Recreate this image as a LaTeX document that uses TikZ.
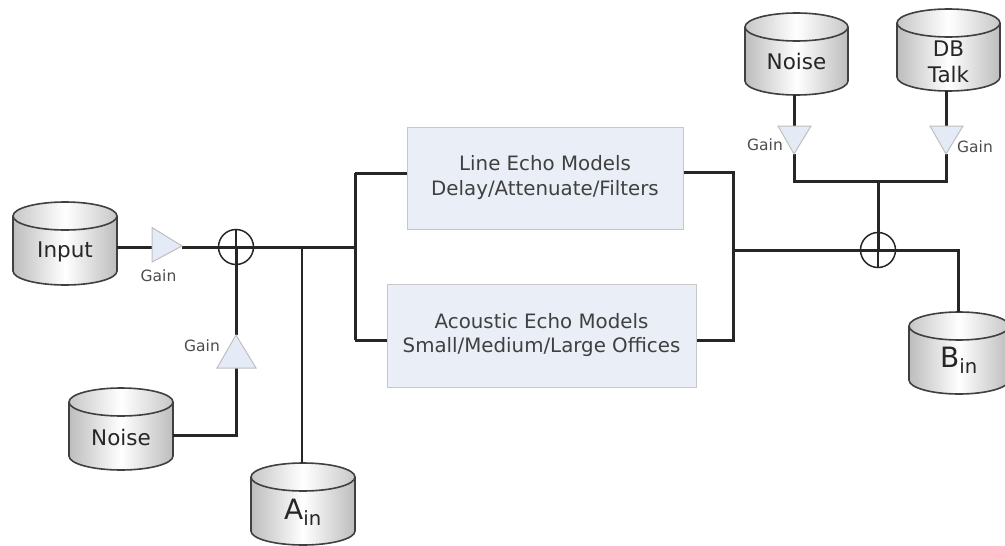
\documentclass[tikz,border=0pt]{standalone}
\usepackage{fontspec}
\setmainfont{DejaVu Sans}
\definecolor{ampfill}{RGB}{228,234,246}
\definecolor{boxfill}{RGB}{233,238,247}
\tikzset{
  wire/.style={draw=black!85,line width=3pt},
  thinwire/.style={draw=black!85,line width=2.2pt},
  amp/.style={fill=ampfill,draw=black!25,line width=1pt},
  gainlabel/.style={font=\fontsize{15.5}{18}\selectfont,text=black!70,inner sep=0pt},
  boxnode/.style={fill=boxfill,draw=black!22,line width=1pt,align=center,inner sep=0pt,font=\fontsize{19.8}{25}\selectfont,text=black!75},
  cyltext/.style={text=black!85,align=center,inner sep=0pt},
  sumc/.style={circle,draw=black!85,line width=1.5pt,minimum size=35pt,inner sep=0pt}
}
% name, left, top, width, height, font size, line height, text y offset, text
\newcommand{\drum}[9]{%
  \fill[left color=black!26,right color=black!26,middle color=white]
    (#2,#3+14) -- (#2,#3+#5-14) arc[start angle=180,end angle=0,x radius=#4/2,y radius=14]
    -- (#2+#4,#3+14) -- cycle;
  \fill[left color=black!22,right color=black!22,middle color=white]
    (#2+#4/2,#3+14) ellipse[x radius=#4/2,y radius=14];
  \draw[black!75,line width=1.6pt]
    (#2,#3+14) -- (#2,#3+#5-14) arc[start angle=180,end angle=0,x radius=#4/2,y radius=14]
    -- (#2+#4,#3+14);
  \draw[black!75,line width=1.6pt] (#2+#4/2,#3+14) ellipse[x radius=#4/2,y radius=14];
  \node[cyltext,font=\fontsize{#6}{#7}\selectfont] (#1)
    at (#2+#4/2,#3+#5/2+#8) {#9};
  \coordinate (#1-top) at (#2+#4/2,#3);
  \coordinate (#1-bot) at (#2+#4/2,#3+#5);
  \coordinate (#1-right) at (#2+#4,#3+#5/2);
}
\begin{document}
\begin{tikzpicture}[x=1pt,y=-1pt]
\useasboundingbox (0,0) rectangle (1005,546);
\fill[white] (0,0) rectangle (1005,546);

% boxes
\node[boxnode,minimum width=276pt,minimum height=102pt] (line) at (545,178)
  {\raisebox{-1pt}{Line Echo Models}\\\raisebox{-1pt}{Delay/Attenuate/Filters}};
\node[boxnode,minimum width=309pt,minimum height=103pt] (acoustic) at (541.5,335.5)
  {\raisebox{-2pt}{Acoustic Echo Models}\\\raisebox{-1pt}{Small/Medium/Large Offices}};

% junction points
\coordinate (sumL) at (236,247);
\coordinate (sumR) at (878,250);
\coordinate (splitL) at (355,247);
\coordinate (tapA) at (302,247);
\coordinate (lineIn) at (355,173);
\coordinate (acIn) at (355,340);
\coordinate (lineOut) at (733,172);
\coordinate (acOut) at (733,340);
\coordinate (mergeR) at (733,250);
\coordinate (binCorner) at (958,250);
\coordinate (busL) at (794,181);
\coordinate (busM) at (878,181);
\coordinate (busR) at (946,181);
\coordinate (noiseCorner) at (236,435);

% drums
\drum{input}{13}{202}{104}{83}{21.5}{26}{8}{Input}
\drum{noiseL}{69}{388}{104}{82}{21.5}{26}{8}{Noise}
\drum{ain}{251}{463}{104}{82}{28}{32}{8}{A\textsubscript{in}}
\drum{noiseT}{745}{13}{103}{82}{21.5}{26}{7}{Noise}
\drum{talk}{897}{9}{103}{82}{21.5}{26}{12}{DB\\Talk}
\drum{bin}{909}{312}{100}{82}{28}{32}{7}{B\textsubscript{in}}

% amplifiers
\coordinate (a1in) at (152,247); \coordinate (a1out) at (182,247);
\coordinate (a2in) at (236,368); \coordinate (a2out) at (236,335);
\coordinate (a3in) at (794,126); \coordinate (a3out) at (794,154);
\coordinate (a4in) at (946,126); \coordinate (a4out) at (946,154);

% wires
\draw[wire] (input-right |- a1in) -- (a1in);
\draw[wire] (a1out) -- (splitL);
\draw[wire] (noiseL-right |- noiseCorner) -- (noiseCorner) -- (a2in);
\draw[wire] (a2out) -- (sumL);
\draw[thinwire] (tapA) -- (ain-top -| tapA);
\draw[wire] (lineIn) -- (acIn);
\draw[wire] (lineIn) -- (line.west |- lineIn);
\draw[wire] (acIn) -- (acoustic.west |- acIn);
\draw[wire] (line.east |- lineOut) -- (lineOut) -- (acOut) -- (acoustic.east |- acOut);
\draw[wire] (mergeR) -- (binCorner) -- (bin-top -| binCorner);
\draw[wire] (a3in |- noiseT-bot) -- (a3in);
\draw[wire] (a4in |- talk-bot) -- (a4in);
\draw[wire] (a3out) -- (busL) -- (busR) -- (a4out);
\draw[wire] (busM) -- (sumR);

% summers
\node[sumc] (sum1) at (sumL) {};
\node[sumc] (sum2) at (sumR) {};
\draw[thinwire] (sum1.north) -- (sumL);
\draw[thinwire] (sumR) -- (sum2.south);

% triangles
\filldraw[amp] (152,227.5) -- (182,246) -- (152,262) -- cycle;
\filldraw[amp] (236,335) -- (256,368) -- (217,368) -- cycle;
\filldraw[amp] (778,126) -- (811,126) -- (794,154) -- cycle;
\filldraw[amp] (930,126) -- (963,126) -- (946,154) -- cycle;

% labels
\node[gainlabel] (g1) at (158.5,276) {Gain};
\node[gainlabel] (g2) at (202,346) {Gain};
\node[gainlabel] (g3) at (765,145) {Gain};
\node[gainlabel] (g4) at (975,147) {Gain};
\end{tikzpicture}
\end{document}
